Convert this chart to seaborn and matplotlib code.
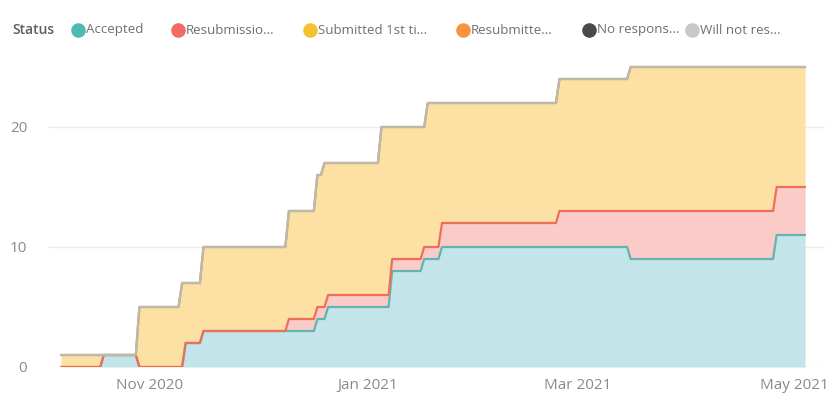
import pandas as pd
import matplotlib
matplotlib.use("Agg")
import matplotlib.pyplot as plt
import seaborn as sns

# ---- data: daily submission counts per status (change points, held until next change) ----
start_date = "2020-10-07"
end_date = "2021-05-04"

statuses = ["Accepted", "Resubmission needed", "Submitted 1st time",
            "Resubmitted", "No response", "Will not resubmit"]
legend_labels = ["Accepted", "Resubmissio...", "Submitted 1st ti...",
                 "Resubmitte...", "No respons...", "Will not res..."]

accepted_dates = ["2020-10-07", "2020-10-19", "2020-10-29", "2020-11-11", "2020-11-16",
                  "2020-12-18", "2020-12-21", "2021-01-08", "2021-01-17", "2021-01-22",
                  "2021-03-16", "2021-04-26"]
accepted_counts = [0, 1, 0, 2, 3, 4, 5, 8, 9, 10, 9, 11]

resubmission_dates = ["2020-10-07", "2020-12-10", "2021-01-22", "2021-02-24", "2021-03-16"]
resubmission_counts = [0, 1, 2, 3, 4]

submitted_dates = ["2020-10-07", "2020-10-19", "2020-10-29", "2020-11-10", "2020-11-11",
                   "2020-11-16", "2020-12-10", "2020-12-18", "2020-12-20", "2020-12-21",
                   "2021-01-05", "2021-01-08", "2021-01-17", "2021-01-18", "2021-01-22",
                   "2021-02-24", "2021-03-16", "2021-04-26"]
submitted_counts = [1, 0, 5, 7, 5, 7, 9, 11, 12, 11, 14, 11, 10, 12, 10, 11, 12, 10]

resubmitted_dates = ["2020-10-07"]
resubmitted_counts = [0]
no_response_dates = ["2020-10-07"]
no_response_counts = [0]
will_not_dates = ["2020-10-07"]
will_not_counts = [0]

x_tick_dates = ["2020-11-01", "2021-01-01", "2021-03-01", "2021-05-01"]
x_tick_labels = ["Nov 2020", "Jan 2021", "Mar 2021", "May 2021"]
y_ticks = [0, 10, 20]

# ---- styling ----
legend_colors = ["#4FB9B3", "#F26B64", "#F5C12E", "#F7953F", "#4A4A4A", "#C8C8C8"]
fill_colors = ["#C3E4E8", "#FBCBC8", "#FDE1A4", "#FDE1A4", "#FDE1A4", "#FDE1A4"]
line_colors = ["#63B3AE", "#EE6E5E", "#E8C77A", "#F0A060", "#6A6A6A", "#BFB8AC"]
line_alpha = [1.0, 1.0, 1.0, 0.3, 0.3, 1.0]

sns.set_theme(style="white")
plt.rcParams["font.family"] = ["Open Sans", "DejaVu Sans"]

days = pd.date_range(start_date, end_date, freq="D")


def daily(dates, counts):
    s = pd.Series(counts, index=pd.to_datetime(dates), dtype=float)
    return s.reindex(days, method="ffill").fillna(0)


wide = pd.DataFrame({
    statuses[0]: daily(accepted_dates, accepted_counts),
    statuses[1]: daily(resubmission_dates, resubmission_counts),
    statuses[2]: daily(submitted_dates, submitted_counts),
    statuses[3]: daily(resubmitted_dates, resubmitted_counts),
    statuses[4]: daily(no_response_dates, no_response_counts),
    statuses[5]: daily(will_not_dates, will_not_counts),
}, index=days)
stacked = wide.cumsum(axis=1)
stacked.index.name = "Date"
long = stacked.reset_index().melt(id_vars="Date", var_name="Status", value_name="Level")

W, H = 833, 404
fig = plt.figure(figsize=(W / 100, H / 100), dpi=100)
fig.patch.set_facecolor("white")

x0, x1, y0, y1 = 48, 825, 367, 55
ax = fig.add_axes([x0 / W, (H - y0) / H, (x1 - x0) / W, (y0 - y1) / H])

# stacked areas
lower = pd.Series(0.0, index=days)
for i, name in enumerate(statuses):
    ax.fill_between(days, lower.values, stacked[name].values,
                    color=fill_colors[i], lw=0, zorder=2)
    lower = stacked[name]

# series outlines on top of the stack
for i, name in enumerate(statuses):
    sns.lineplot(data=long[long["Status"] == name], x="Date", y="Level",
                 color=line_colors[i], alpha=line_alpha[i], lw=1.6,
                 estimator=None, ax=ax, zorder=3 + i)

ax.set_xlim(pd.Timestamp("2020-10-03 08:00"), pd.Timestamp("2021-05-09 14:00"))
ax.set_ylim(0, 26)
ax.set_xticks(pd.to_datetime(x_tick_dates))
ax.set_xticklabels(x_tick_labels)
ax.set_yticks(y_ticks)
ax.set_yticklabels([str(v) for v in y_ticks])
ax.set_xlabel("")
ax.set_ylabel("")
ax.tick_params(axis="both", length=0, labelsize=11, labelcolor="#8A8A8A")
ax.tick_params(axis="x", pad=8)
ax.tick_params(axis="y", pad=15)
ax.grid(axis="y", color="#EDEDED", lw=1, zorder=0)
ax.grid(axis="x", visible=False)
for sp in ax.spines.values():
    sp.set_visible(False)

# legend row drawn in pixel space
lg = fig.add_axes([0, 0, 1, 1], facecolor="none")
lg.set_xlim(0, W)
lg.set_ylim(H, 0)
lg.axis("off")
leg_y = 30
lg.text(12, leg_y, "Status", fontsize=10, fontweight="semibold", color="#5E5E5E",
        va="center", ha="left")
dot_x = [78, 178, 310, 463, 589, 692]
for i, lab in enumerate(legend_labels):
    lg.scatter([dot_x[i]], [leg_y], s=110, color=legend_colors[i], lw=0)
    lg.text(dot_x[i] + 8, leg_y, lab, fontsize=9.6, color="#707070",
            va="center", ha="left")

fig.savefig("out.png", dpi=100, facecolor="white")
